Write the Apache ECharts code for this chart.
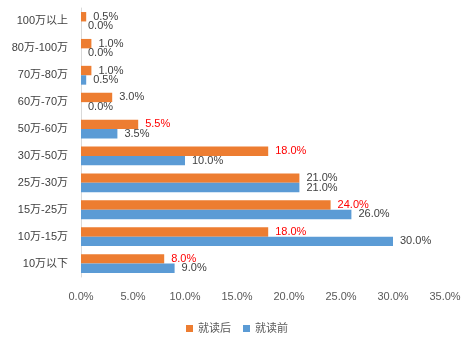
<!DOCTYPE html>
<html>
<head>
<meta charset="utf-8">
<script src="https://cdn.jsdelivr.net/npm/echarts@6/dist/echarts.min.js"></script>
<style>
html,body{margin:0;padding:0;background:#fff;}
#chart{width:474px;height:344px;}
</style>
</head>
<body>
<div id="chart"></div>
<script>
// Categories from bottom to top
var categories = ['10万以下','10万-15万','15万-25万','25万-30万','30万-50万','50万-60万','60万-70万','70万-80万','80万-100万','100万以上'];
var afterValues = [8.0, 18.0, 24.0, 21.0, 18.0, 5.5, 3.0, 1.0, 1.0, 0.5];   // 就读后
var beforeValues = [9.0, 30.0, 26.0, 21.0, 10.0, 3.5, 0.0, 0.5, 0.0, 0.0]; // 就读前
var highlightAfter = ['10万以下','10万-15万','15万-25万','30万-50万','50万-60万'];
var seriesNames = ['就读后','就读前'];
var xTicks = [0, 5, 10, 15, 20, 25, 30, 35];

var FONT = 'Liberation Sans, "Noto Sans CJK SC", sans-serif';
var chart = echarts.init(document.getElementById('chart'));
var afterData = afterValues.map(function(v, i){
  var item = {value: v};
  if (highlightAfter.indexOf(categories[i]) >= 0) item.label = {color: '#FF0000'};
  return item;
});
var labelBase = {show: true, position: 'right', distance: 7, fontSize: 11, fontFamily: FONT, color: '#404040',
  formatter: function(p){ return Number(p.value).toFixed(1) + '%'; }};
chart.setOption({
  animation: false,
  textStyle: {fontFamily: FONT},
  grid: {left: 81, right: 29, top: 8, bottom: 67},
  legend: {
    bottom: 5, left: 'center', itemWidth: 7, itemHeight: 7, itemGap: 12,
    icon: 'rect',
    textStyle: {fontSize: 11, color: '#595959', fontFamily: FONT},
    data: seriesNames
  },
  xAxis: {
    type: 'value', min: 0, max: 35, interval: 5,
    axisLine: {show: false}, axisTick: {show: false}, splitLine: {show: false},
    axisLabel: {fontSize: 11, color: '#595959', margin: 14, fontFamily: FONT,
      formatter: function(v){ return xTicks.indexOf(v) >= 0 ? v.toFixed(1) + '%' : ''; }}
  },
  yAxis: {
    type: 'category', data: categories,
    axisLine: {show: true, lineStyle: {color: '#D9D9D9'}},
    axisTick: {show: false},
    axisLabel: {fontSize: 11, color: '#404040', margin: 13, fontFamily: FONT}
  },
  series: [
    {name: seriesNames[0], type: 'bar', data: afterData, barGap: '0%', barCategoryGap: '30%',
     itemStyle: {color: '#ED7D31'}, label: labelBase},
    {name: seriesNames[1], type: 'bar', data: beforeValues, barGap: '0%', barCategoryGap: '30%',
     itemStyle: {color: '#5B9BD5'}, label: labelBase}
  ]
});
</script>
</body>
</html>
